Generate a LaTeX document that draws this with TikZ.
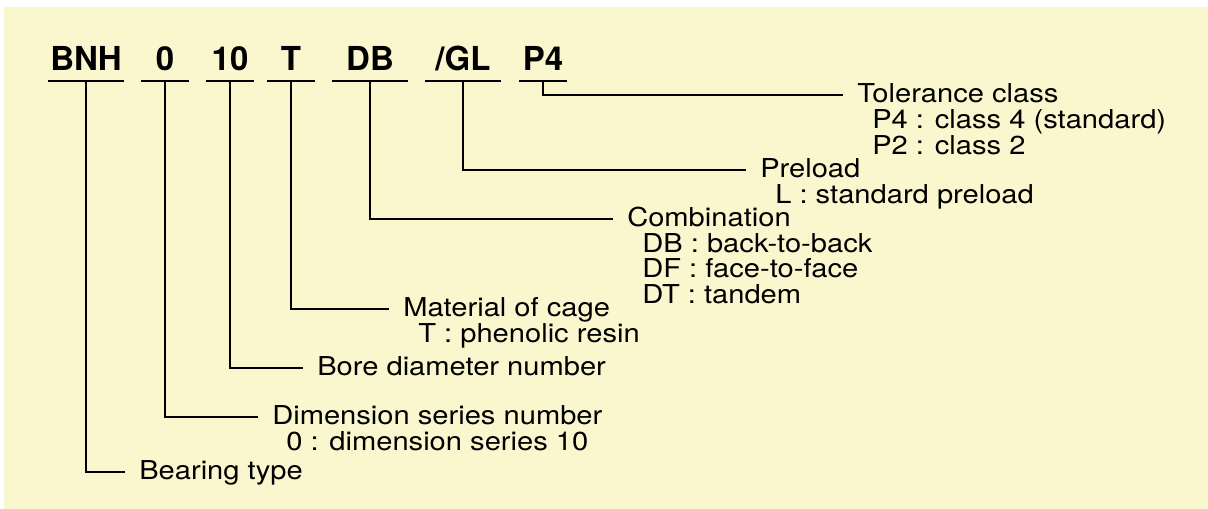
\documentclass[tikz,border=0pt]{standalone}
\usepackage{fontspec}
\setmainfont{TeX Gyre Heros}
\newfontfamily\labelfont[FakeStretch=1.12]{TeX Gyre Heros}
\usetikzlibrary{calc}
\definecolor{paper}{RGB}{250,247,207}

\begin{document}
\begin{tikzpicture}[
  x=0.75pt, y=-0.75pt,
  code/.style={font=\fontsize{24.75}{26}\selectfont\bfseries, anchor=base, inner xsep=0pt, inner ysep=7.5pt, text depth=0pt, minimum width=35.25pt},
  wide/.style={code, minimum width=56.25pt},
  title/.style={font=\labelfont\fontsize{19.5}{19.5}\selectfont, anchor=base west, inner xsep=10.5pt, inner ysep=0pt, text height=14.25pt, text depth=3pt},
  sub/.style={font=\labelfont\fontsize{19.5}{19.5}\selectfont, anchor=base west, inner sep=0pt},
  lead/.style={line width=1.5pt}
]
  \useasboundingbox (0,0) rectangle (1208,509);
  \fill[paper] (4,7.5) rectangle (1208,509);

  % bearing number
  \node[wide] (type) at (86,71) {BNH};
  \node[code] (series) at (165,71) {0};
  \node[code] (bore) at (230,71) {10};
  \node[code] (cage) at (291,71) {T};
  \node[wide] (combo) at (370,71) {DB};
  \node[wide] (preload) at (463,71) {/GL};
  \node[code] (tolerance) at (543,71) {P4};

  % explanations
  \node[title] (tolerance-t) at (843,103) {Tolerance class};
  \node[title] (preload-t) at (746,178) {Preload};
  \node[title] (combo-t) at (613,227) {Combination};
  \node[title] (cage-t) at (389,317) {Material of cage};
  \node[title] (bore-t) at (303,376) {Bore diameter number};
  \node[title] (series-t) at (258,425) {Dimension series number};
  \node[title] (type-t) at (125,480) {Bearing type};

  \foreach \txt [count=\i] in {P4 : class 4 (standard), P2 : class 2}
    \node[sub] (tolerance-\i) at ($(tolerance-t.base west)+(29,26*\i)$) {\txt};
  \node[sub] (preload-1) at ($(preload-t.base west)+(29,26)$) {L : standard preload};
  \foreach \txt [count=\i] in {DB : back-to-back, DF : face-to-face, DT : tandem}
    \node[sub] (combo-\i) at ($(combo-t.base west)+(29,25.5*\i)$) {\txt};
  \node[sub] (cage-1) at ($(cage-t.base west)+(29,26)$) {T : phenolic resin};
  \node[sub] (series-1) at ($(series-t.base west)+(28,26)$) {0 : dimension series 10};

  % leaders
  \foreach \n in {type,series,bore,cage,combo,preload,tolerance} {
    \draw[lead] (\n.south west) -- (\n.south east);
    \draw[lead] (\n.south) |- (\n-t.west);
  }
\end{tikzpicture}
\end{document}
